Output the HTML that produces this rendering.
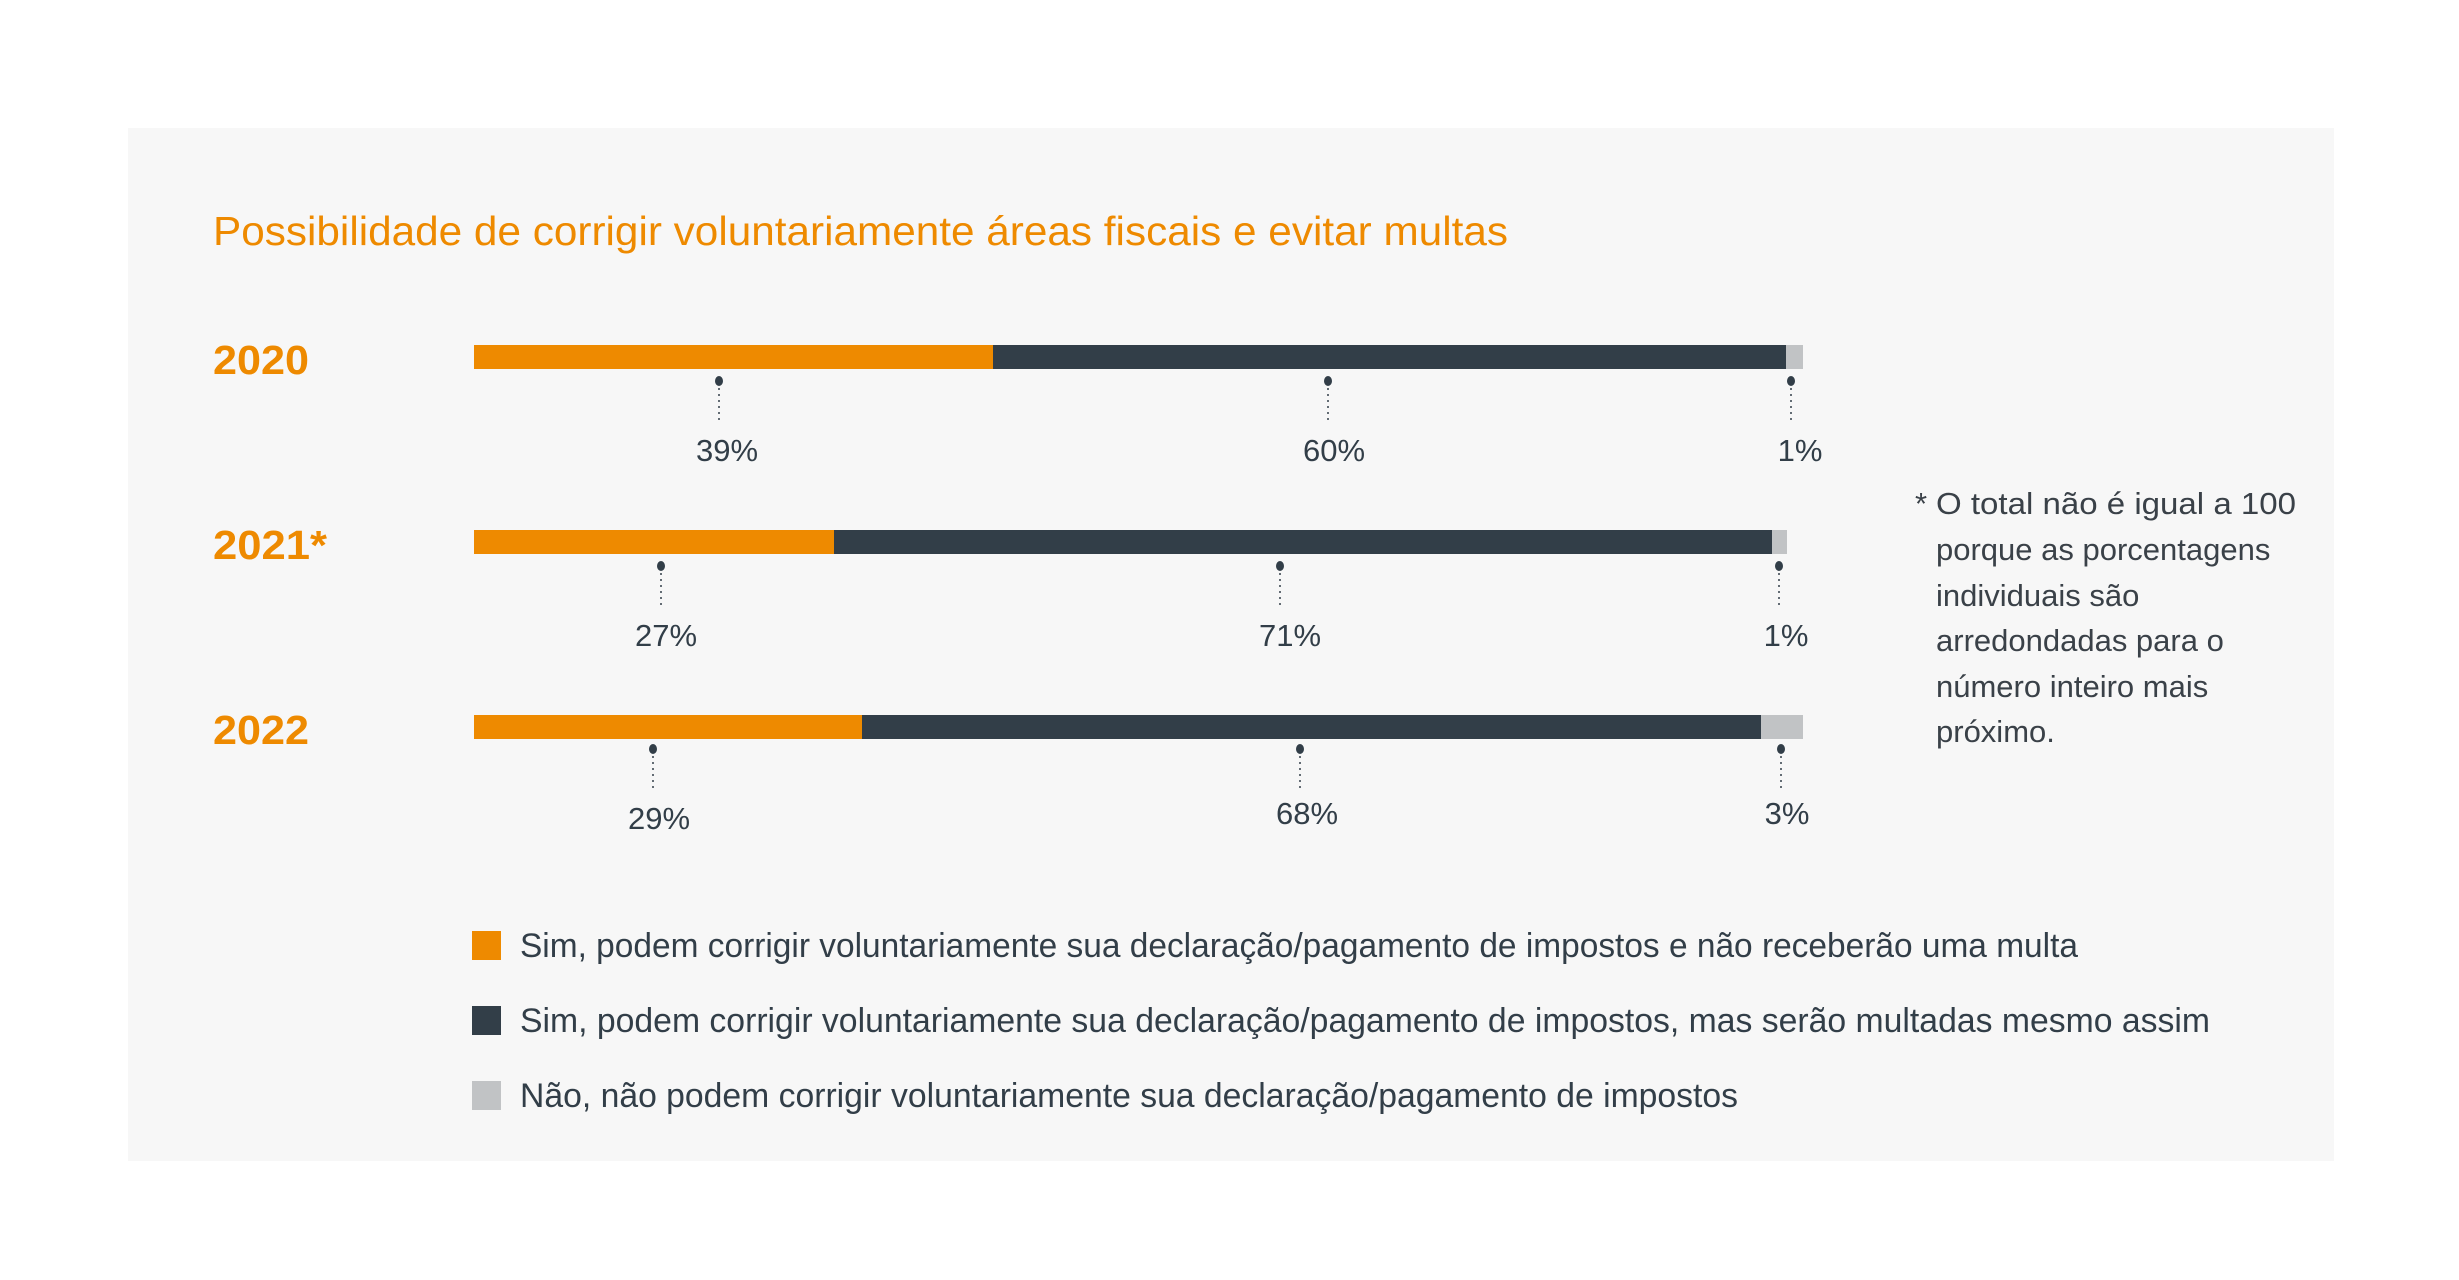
<!DOCTYPE html>
<html><head><meta charset="utf-8"><style>
html,body{margin:0;padding:0;background:#fff;}
svg{display:block;}
text{font-family:"Liberation Sans",sans-serif;}
</style></head><body>
<svg width="2459" height="1280" viewBox="0 0 2459 1280" xmlns="http://www.w3.org/2000/svg">
<rect x="0" y="0" width="2459" height="1280" fill="#ffffff"/>
<rect x="128" y="128" width="2206" height="1033" fill="#f7f7f7"/>
<text x="213" y="245" font-size="41" fill="#ee8a00" textLength="1295" lengthAdjust="spacingAndGlyphs">Possibilidade de corrigir voluntariamente áreas fiscais e evitar multas</text>

<g font-size="41" font-weight="bold" fill="#ee8a00">
<text x="213" y="374" textLength="96" lengthAdjust="spacingAndGlyphs">2020</text>
<text x="213" y="559" textLength="114" lengthAdjust="spacingAndGlyphs">2021*</text>
<text x="213" y="744" textLength="96" lengthAdjust="spacingAndGlyphs">2022</text>
</g>

<rect x="474" y="345" width="519" height="24" fill="#ee8a00"/>
<rect x="993" y="345" width="793" height="24" fill="#323e48"/>
<rect x="1786" y="345" width="17" height="24" fill="#c1c3c5"/>

<rect x="474" y="530" width="360" height="24" fill="#ee8a00"/>
<rect x="834" y="530" width="938" height="24" fill="#323e48"/>
<rect x="1772" y="530" width="15" height="24" fill="#c1c3c5"/>

<rect x="474" y="715" width="388" height="24" fill="#ee8a00"/>
<rect x="862" y="715" width="899" height="24" fill="#323e48"/>
<rect x="1761" y="715" width="42" height="24" fill="#c1c3c5"/>

<g fill="#323e48" stroke="#323e48">
<g stroke-width="1.5" stroke-dasharray="2,4">
<line x1="719" y1="382" x2="719" y2="423"/><line x1="1328" y1="382" x2="1328" y2="423"/><line x1="1791" y1="382" x2="1791" y2="423"/>
<line x1="661" y1="567" x2="661" y2="608"/><line x1="1280" y1="567" x2="1280" y2="608"/><line x1="1779" y1="567" x2="1779" y2="608"/>
<line x1="653" y1="750" x2="653" y2="791"/><line x1="1300" y1="750" x2="1300" y2="791"/><line x1="1781" y1="750" x2="1781" y2="791"/>
</g>
<g stroke="none">
<ellipse cx="719" cy="381" rx="4" ry="5"/><ellipse cx="1328" cy="381" rx="4" ry="5"/><ellipse cx="1791" cy="381" rx="4" ry="5"/>
<ellipse cx="661" cy="566" rx="4" ry="5"/><ellipse cx="1280" cy="566" rx="4" ry="5"/><ellipse cx="1779" cy="566" rx="4" ry="5"/>
<ellipse cx="653" cy="749" rx="4" ry="5"/><ellipse cx="1300" cy="749" rx="4" ry="5"/><ellipse cx="1781" cy="749" rx="4" ry="5"/>
</g>
</g>

<g font-size="31" fill="#323e48" text-anchor="middle">
<text x="727" y="461">39%</text><text x="1334" y="461">60%</text><text x="1800" y="461">1%</text>
<text x="666" y="646">27%</text><text x="1290" y="646">71%</text><text x="1786" y="646">1%</text>
<text x="659" y="829">29%</text><text x="1307" y="824">68%</text><text x="1787" y="824">3%</text>
</g>

<g font-size="31" fill="#3a4148">
<text x="1915" y="514">*</text>
<text x="1936" y="514" textLength="360" lengthAdjust="spacingAndGlyphs">O total não é igual a 100</text>
<text x="1936" y="560">porque as porcentagens</text>
<text x="1936" y="606">individuais são</text>
<text x="1936" y="651">arredondadas para o</text>
<text x="1936" y="697">número inteiro mais</text>
<text x="1936" y="742">próximo.</text>
</g>

<rect x="472" y="931" width="29" height="29" fill="#ee8a00"/>
<rect x="472" y="1006" width="29" height="29" fill="#323e48"/>
<rect x="472" y="1081" width="29" height="29" fill="#c1c3c5"/>
<g font-size="34" fill="#323e48">
<text x="520" y="957" textLength="1558" lengthAdjust="spacingAndGlyphs">Sim, podem corrigir voluntariamente sua declaração/pagamento de impostos e não receberão uma multa</text>
<text x="520" y="1032" textLength="1690" lengthAdjust="spacingAndGlyphs">Sim, podem corrigir voluntariamente sua declaração/pagamento de impostos, mas serão multadas mesmo assim</text>
<text x="520" y="1107" textLength="1218" lengthAdjust="spacingAndGlyphs">Não, não podem corrigir voluntariamente sua declaração/pagamento de impostos</text>
</g>
</svg>
</body></html>
